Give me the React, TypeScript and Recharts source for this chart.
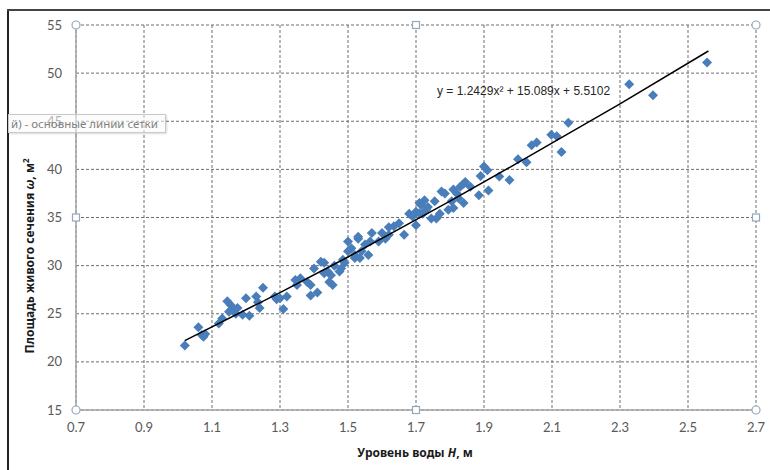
import React from 'react'
import {
  CartesianGrid, ReferenceDot, Scatter, ScatterChart, XAxis, YAxis, Label,
} from 'recharts'

// уровень воды H, м
const levelH = [
  1.02, 1.06, 1.07, 1.08, 1.075, 1.12, 1.13, 1.145, 1.155, 1.16, 1.15, 1.17, 1.175,
  1.2, 1.19, 1.21, 1.23, 1.235, 1.25, 1.24, 1.285, 1.29, 1.3, 1.32, 1.31,
  1.345, 1.35, 1.36, 1.38, 1.39, 1.39, 1.4, 1.41, 1.42, 1.43, 1.43, 1.44, 1.445, 1.455,
  1.46, 1.45, 1.475, 1.48, 1.49, 1.485, 1.5, 1.5, 1.51, 1.52, 1.52, 1.53, 1.53, 1.535,
  1.54, 1.55, 1.56, 1.565, 1.57, 1.59, 1.6, 1.61, 1.62, 1.62, 1.635, 1.65, 1.665,
  1.68, 1.69, 1.7, 1.7, 1.71, 1.71, 1.715, 1.72, 1.725, 1.73, 1.735, 1.745, 1.755,
  1.76, 1.77, 1.775, 1.785, 1.795, 1.805, 1.81, 1.81, 1.82, 1.825, 1.83, 1.84, 1.84,
  1.845, 1.86, 1.885, 1.89, 1.9, 1.91, 1.913, 1.945, 1.975, 2.0, 2.025, 2.04, 2.055,
  2.098, 2.114, 2.128, 2.148, 2.327, 2.397, 2.556,
]
// площадь живого сечения ω, м²
const areaW = [
  21.7, 23.6, 22.8, 22.9, 22.6, 24.0, 24.5, 26.3, 25.9, 25.5, 25.2, 25.0, 25.6,
  26.6, 24.9, 24.8, 26.8, 26.2, 27.7, 25.6, 26.8, 26.5, 26.6, 26.8, 25.5,
  28.5, 28.0, 28.7, 28.3, 28.0, 26.9, 29.7, 27.2, 30.4, 30.3, 29.2, 29.4, 28.3, 28.0,
  30.0, 29.0, 29.4, 29.7, 30.3, 30.6, 32.5, 31.5, 31.8, 30.8, 31.1, 33.0, 32.8, 30.8,
  31.5, 32.2, 31.1, 32.5, 33.4, 32.5, 33.4, 32.8, 33.2, 34.0, 34.1, 34.4, 33.2,
  35.4, 35.1, 35.6, 34.2, 35.45, 36.5, 36.3, 35.4, 36.8, 35.8, 36.1, 34.9, 36.7,
  34.9, 35.4, 37.7, 37.5, 35.8, 36.7, 36.0, 37.9, 37.5, 37.0, 38.2, 38.5, 36.5,
  38.7, 38.2, 37.3, 39.3, 40.3, 39.9, 37.8, 39.25, 38.9, 41.05, 40.75, 42.5, 42.8,
  43.6, 43.45, 41.8, 44.85, 48.85, 47.7, 51.1,
]

// линия тренда
const trendH = [1.02, 1.3, 1.5, 1.8, 2.0, 2.3, 2.56]
const trendW = [22.2, 27.2, 30.9, 36.7, 40.7, 46.8, 52.3]

const xTicks = [0.7, 0.9, 1.1, 1.3, 1.5, 1.7, 1.9, 2.1, 2.3, 2.5, 2.7]
const yTicks = [15, 20, 25, 30, 35, 40, 45, 50, 55]

const points = levelH.map((h, i) => ({ h, w: areaW[i] }))
const trend = trendH.map((h, i) => ({ h, w: trendW[i] }))

const TICK_FONT = 'Lato, "Liberation Sans", sans-serif'
const TITLE_FONT = '"Noto Sans", "DejaVu Sans", sans-serif'

const Diamond = (p: any) => {
  const { cx, cy } = p
  if (cx == null || cy == null) return <g />
  const r = 5
  return <path d={`M${cx},${cy - r}L${cx + r},${cy}L${cx},${cy + r}L${cx - r},${cy}Z`} fill="#4a7ebb" />
}

const handleCircle = (p: any) => <circle cx={p.cx} cy={p.cy} r={4} fill="#fff" stroke="#93a7bd" strokeWidth={1.2} />
const handleSquare = (p: any) => <rect x={p.cx - 3.5} y={p.cy - 3.5} width={7} height={7} fill="#fff" stroke="#93a7bd" strokeWidth={1.2} />

export default function App() {
  return (
    <div style={{ position: 'absolute', left: 0, top: 0, width: 770, height: 470, background: '#fff', overflow: 'hidden' }}>
      <ScatterChart width={770} height={470} margin={{ top: 25, right: 14, bottom: 0, left: 0 }}>
        <CartesianGrid stroke="#6e6e6e" strokeDasharray="3 2" strokeWidth={1} />
        <XAxis type="number" dataKey="h" domain={[0.7, 2.7]} ticks={xTicks} height={60}
          tickFormatter={(v: number) => v.toFixed(1)} tickLine={false} tickSize={0} tickMargin={13}
          axisLine={{ stroke: '#a6a6a6', strokeWidth: 1.5 }}
          tick={{ fontSize: 13, fill: '#595959', fontFamily: TICK_FONT }}>
          <Label content={() => (
            <text x={415} y={457} textAnchor="middle" fontFamily={TITLE_FONT} fontSize={12} fontWeight="bold" fill="#1a1a1a">
              Уровень воды <tspan fontStyle="italic">H</tspan>, м
            </text>
          )} />
        </XAxis>
        <YAxis type="number" dataKey="w" domain={[15, 55]} ticks={yTicks} width={76}
          tickLine={false} tickSize={0} tickMargin={14}
          axisLine={{ stroke: '#a6a6a6', strokeWidth: 1.5 }}
          tick={{ fontSize: 13, fill: '#595959', fontFamily: TICK_FONT }}>
          <Label content={() => (
            <text x={34} y={256} transform="rotate(-90 34 256)" textAnchor="middle" fontFamily={TITLE_FONT} fontSize={12} fontWeight="bold" fill="#1a1a1a">
              Площадь живого сечения <tspan fontStyle="italic">ω</tspan>, м<tspan fontSize={8} dy={-5}>2</tspan>
            </text>
          )} />
        </YAxis>
        <Scatter data={points} shape={Diamond} isAnimationActive={false} />
        <Scatter data={trend} shape={() => <g />} line={{ stroke: '#000', strokeWidth: 1.5 }} isAnimationActive={false} />
        <ReferenceDot x={0.7} y={55} ifOverflow="visible" shape={handleCircle} />
        <ReferenceDot x={1.7} y={55} ifOverflow="visible" shape={handleSquare} />
        <ReferenceDot x={2.7} y={55} ifOverflow="visible" shape={handleCircle} />
        <ReferenceDot x={0.7} y={35} ifOverflow="visible" shape={handleSquare} />
        <ReferenceDot x={2.7} y={35} ifOverflow="visible" shape={handleSquare} />
        <ReferenceDot x={0.7} y={15} ifOverflow="visible" shape={handleCircle} />
        <ReferenceDot x={1.7} y={15} ifOverflow="visible" shape={handleSquare} />
        <ReferenceDot x={2.7} y={15} ifOverflow="visible" shape={handleCircle} />
        <text x={437} y={95} fontFamily='"Liberation Sans", sans-serif' fontSize={12} fill="#262626">
          y = 1.2429x² + 15.089x + 5.5102
        </text>
      </ScatterChart>
      {/* рамка скриншота */}
      <div style={{ position: 'absolute', left: 7, top: 10, width: 2, height: 460, background: '#222' }} />
      <div style={{ position: 'absolute', left: 7, top: 9, width: 763, height: 2, background: '#444' }} />
      {/* всплывающая подсказка Excel */}
      <div style={{
        position: 'absolute', left: 8, top: 114, width: 158, height: 19, boxSizing: 'border-box',
        border: '1px solid #c9c9c9', background: 'rgba(250,250,250,0.55)', color: '#808080',
        fontFamily: TITLE_FONT, fontSize: 11.5, lineHeight: '17px', paddingLeft: 2, whiteSpace: 'nowrap',
        boxShadow: '1px 1px 2px rgba(0,0,0,0.15)',
      }}>
        й)  - основные линии сетки
      </div>
    </div>
  )
}
